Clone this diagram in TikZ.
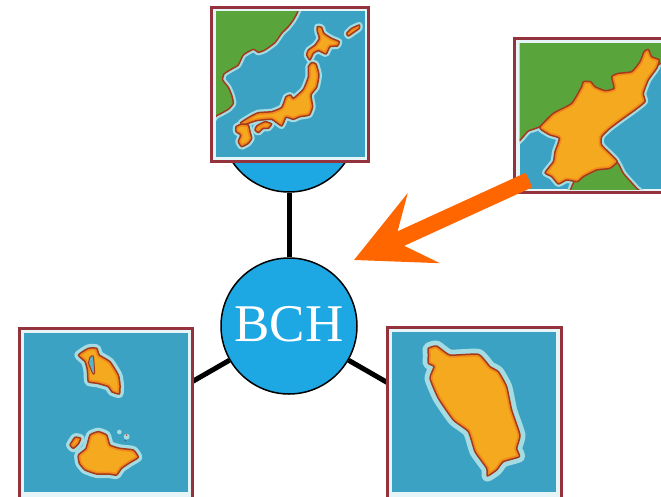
\documentclass[tikz,border=0pt]{standalone}
\usepackage{fontspec}
\setmainfont{Liberation Serif}
\usetikzlibrary{arrows.meta}
\definecolor{hubblue}{HTML}{1EA8E3}
\definecolor{sea}{HTML}{3BA2C3}
\definecolor{halo}{HTML}{A5DCE2}
\definecolor{greenland}{HTML}{5AA53B}
\definecolor{gold}{HTML}{F5A91F}
\definecolor{deepor}{HTML}{F28A1B}
\definecolor{coast}{HTML}{A43A1C}
\definecolor{framered}{HTML}{94333D}
\definecolor{arrowor}{HTML}{FF6600}
\tikzset{
  hub/.style={circle,draw=black,line width=1.5pt,fill=hubblue,minimum size=136pt,inner sep=0pt,text=white},
  spoke/.style={draw=black,line width=5pt},
  mapframe/.style={rectangle,draw=framered,line width=3pt,fill=white!88!sea,inner sep=0pt},
  zoomgrid/.style={x=0.33333pt,y=-0.33333pt},
  pointer/.style={draw=arrowor,line width=16pt,-{Stealth[length=76pt,width=76pt,inset=31pt]}},
}
% a land shape with its pale shore, dark coast and inner orange band
\newcommand{\shore}[2][6pt]{\draw[halo,line width=#1,line join=round] plot[smooth cycle,tension=0.3] coordinates {#2};}
\newcommand{\landmass}[1]{%
  \fill[gold] plot[smooth cycle,tension=0.3] coordinates {#1};
  \begin{scope}
    \clip plot[smooth cycle,tension=0.3] coordinates {#1};
    \draw[deepor,line width=5pt,line join=round] plot[smooth cycle,tension=0.3] coordinates {#1};
  \end{scope}
  \draw[coast,line width=1.5pt,line join=round] plot[smooth cycle,tension=0.3] coordinates {#1};}
\begin{document}
\begin{tikzpicture}[x=1pt,y=-1pt]
\clip (0,0) rectangle (661,496);
\fill[white] (0,0) rectangle (661,496);
% hubs and spokes
\node[hub] (top) at (289,124) {};
\coordinate (hubL) at (169,395);
\coordinate (hubR) at (409,395);
\node[hub] (bch) at (289,326) {};
\draw[spoke] (top) -- (bch);
\draw[spoke] (bch) -- (hubL);
\draw[spoke] (bch) -- (hubR);
% frames
\node[mapframe,minimum width=157pt,minimum height=154pt] (japan) at (289.5,84) {};
\node[mapframe,minimum width=176pt,minimum height=154pt] (korea) at (602,115) {};
\node[mapframe,minimum width=173pt,minimum height=172pt] (antigua) at (105.5,414) {};
\node[mapframe,minimum width=174pt,minimum height=172pt] (dominica) at (474,413) {};
% Japan
\fill[sea] (216,11) rectangle (364.5,157);
\begin{scope}
\clip (216,11) rectangle (364.5,157);
\begin{scope}[zoomgrid,shift={(200pt,0pt)}]
\def\jgreen{(20,0) (293,0) (293,35) (280,60) (265,80) (245,100) (225,128) (195,150) (175,157) (160,148) (130,165) (115,195) (90,210) (72,222) (68,240) (85,262) (95,285) (100,310) (85,328) (50,347) (20,360)}
\def\hokkaido{(352,80) (365,82) (372,100) (395,115) (418,125) (412,138) (390,140) (378,162) (355,152) (340,160) (330,180) (320,165) (325,150) (345,135) (358,115) (352,95)}
\def\kuril{(440,100) (455,85) (478,75) (478,85) (460,98) (445,108)}
\def\honshu{(335,188) (348,192) (357,225) (350,262) (333,285) (338,320) (328,345) (300,350) (280,358) (258,352) (245,378) (215,358) (170,362) (145,370) (125,378) (122,368) (150,350) (175,338) (215,335) (245,322) (258,290) (272,285) (280,295) (310,268) (325,230) (325,200)}
\def\kyushu{(108,380) (125,372) (145,375) (150,395) (155,415) (145,430) (125,440) (115,425) (122,405) (108,395)}
\def\shikoku{(170,378) (195,365) (215,372) (205,385) (190,385) (175,398) (165,390)}
\draw[halo,line width=6pt,line join=round] plot[smooth cycle,tension=0.3] coordinates {\jgreen};
\shore{\hokkaido}\shore{\kuril}\shore{\honshu}\shore{\kyushu}\shore{\shikoku}
\fill[greenland] plot[smooth cycle,tension=0.3] coordinates {\jgreen};
\draw[coast,line width=1.5pt] plot[smooth cycle,tension=0.3] coordinates {\jgreen};
\landmass{\hokkaido}\landmass{\kuril}\landmass{\honshu}\landmass{\kyushu}\landmass{\shikoku}
\end{scope}
\end{scope}
% North Korea
\fill[sea] (519.5,43) rectangle (661,189);
\begin{scope}
\clip (519.5,43) rectangle (661,189);
\begin{scope}[zoomgrid,shift={(500pt,-30pt)}]
\def\kgreenA{(40,20) (520,20) (520,80) (483,100) (300,200) (120,290) (85,303) (40,335)}
\def\kgreenB{(215,500) (430,500) (410,475) (370,430) (350,395) (300,410) (232,440)}
\def\nkorea{(120,290) (160,250) (215,220) (245,170) (250,155) (272,155) (285,170) (315,182) (342,175) (335,140) (355,130) (395,125) (420,95) (432,65) (445,58) (455,80) (478,90) (470,115) (445,150) (430,190) (435,215) (405,240) (370,265) (330,295) (305,320) (305,345) (335,375) (352,395) (330,415) (290,420) (250,440) (232,455) (200,450) (175,462) (155,440) (135,428) (160,395) (165,365) (178,325) (150,315) (125,300)}
\draw[halo,line width=6pt,line join=round] plot[smooth cycle,tension=0.3] coordinates {\kgreenA};
\draw[halo,line width=6pt,line join=round] plot[smooth cycle,tension=0.3] coordinates {\kgreenB};
\shore{\nkorea}
\fill[greenland] plot[smooth cycle,tension=0.3] coordinates {\kgreenA};
\fill[greenland] plot[smooth cycle,tension=0.3] coordinates {\kgreenB};
\draw[coast,line width=1.5pt] plot[smooth cycle,tension=0.3] coordinates {\kgreenA};
\draw[coast,line width=1.5pt] plot[smooth cycle,tension=0.3] coordinates {\kgreenB};
\landmass{\nkorea}
\end{scope}
\end{scope}
% Antigua and Barbuda
\fill[sea] (24,333) rectangle (187.5,492);
\begin{scope}[zoomgrid,shift={(10pt,-320pt)}]
\def\barbuda{(205,105) (235,85) (260,85) (268,105) (300,125) (325,165) (330,195) (328,222) (305,215) (295,200) (262,190) (235,185) (232,150) (225,125)}
\def\lagoon{(240,112) (250,108) (254,160) (248,160) (236,130)}
\def\antiguaI{(205,405) (228,385) (240,345) (265,335) (290,345) (300,375) (330,385) (370,390) (385,412) (360,428) (335,445) (320,465) (295,462) (260,462) (225,450) (208,430)}
\def\redonda{(180,375) (195,352) (212,355) (205,372) (190,385)}
\shore[8pt]{\barbuda}\shore[8pt]{\antiguaI}\shore[8pt]{\redonda}
\landmass{\barbuda}\landmass{\antiguaI}\landmass{\redonda}
\fill[sea!70!halo,draw=coast,line width=1pt] plot[smooth cycle,tension=0.3] coordinates {\lagoon};
\fill[halo] (328,336) circle[radius=7];
\fill[halo] (350,350) circle[radius=9];
\fill[coast] (350,345) circle[radius=2.5];
\fill[coast] (346,362) circle[radius=2.5];
\end{scope}
% Dominica
\fill[sea] (392,332) rectangle (556,492);
\begin{scope}[zoomgrid,shift={(380pt,-320pt)}]
\def\dominicaI{(145,85) (170,78) (210,105) (295,103) (330,140) (355,155) (380,200) (395,270) (420,345) (410,385) (418,410) (370,425) (350,450) (322,468) (320,445) (285,395) (265,335) (220,300) (175,235) (150,175) (162,140) (145,130) (145,105)}
\shore[11pt]{\dominicaI}
\landmass{\dominicaI}
\end{scope}
% label and pointer
\node[text=white,font=\fontsize{53}{53}\selectfont,inner sep=0pt] (bchlabel) at (289,324) {BCH};
\coordinate (pstart) at (529,180);
\coordinate (ptip) at (354,260);
\draw[pointer] (pstart) -- (ptip);
\end{tikzpicture}
\end{document}
